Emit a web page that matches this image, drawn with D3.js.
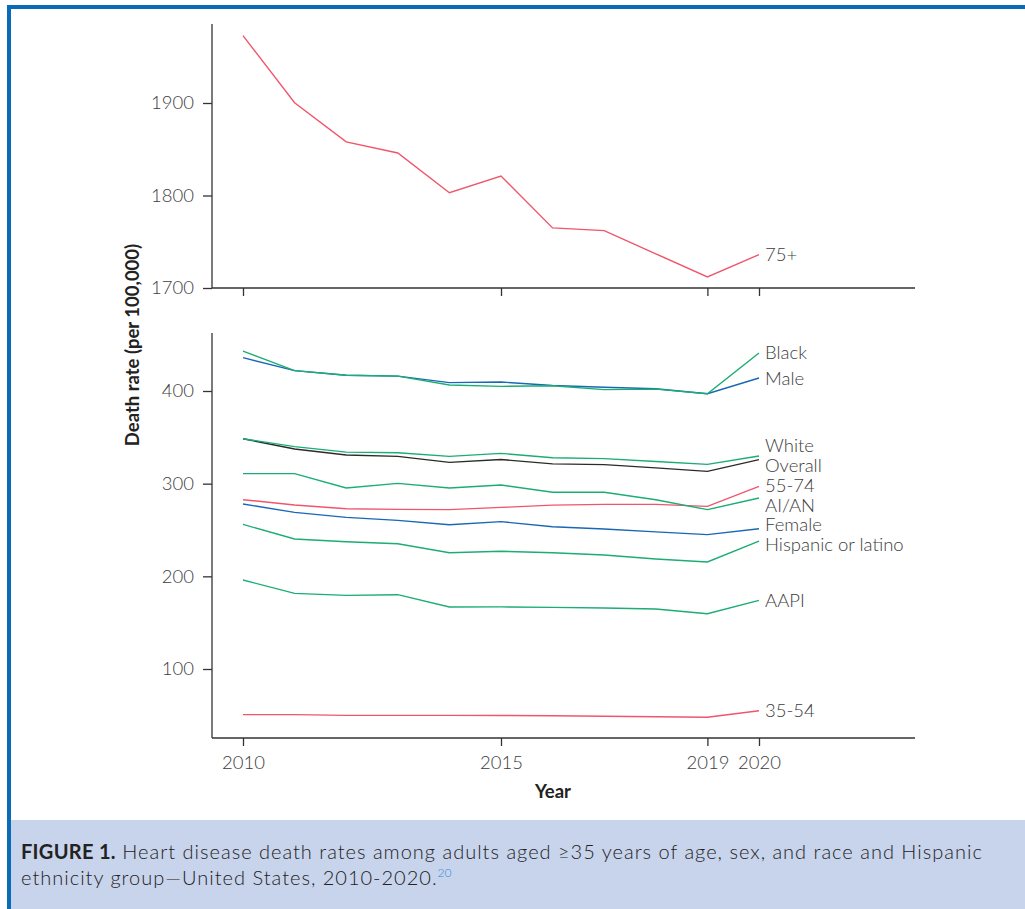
<!DOCTYPE html>
<html>
<head>
<meta charset="utf-8">
<script src="https://cdn.jsdelivr.net/npm/d3@7"></script>
<style>
  body { margin: 0; background: #fff; }
  svg { display: block; font-family: Lato, 'Open Sans', sans-serif; }
</style>
</head>
<body>
<div id="chart"></div>
<script>
const years = [2010, 2011, 2012, 2013, 2014, 2015, 2016, 2017, 2018, 2019, 2020];
const yearTicks = [2010, 2015, 2019, 2020];
const topTicks = [1700, 1800, 1900];
const bottomTicks = [100, 200, 300, 400];

// death rate per 100,000
const overall = [348.5, 337.4, 331, 329.5, 323, 326, 321.4, 320.5, 317, 313.3, 326];
const male = [436, 422, 417, 416, 409, 409.7, 406, 404, 402.5, 397, 414];
const female = [278, 269, 263.6, 260.4, 255.7, 259, 253.5, 251, 248, 245, 251.4];
const age3554 = [50.8, 50.8, 50, 50, 50, 49.8, 49.5, 49, 48.5, 48, 55];
const age5574 = [282.7, 277, 273, 272.3, 272, 274.4, 276.8, 277.7, 277.7, 275.5, 297];
const age75 = [1972.8, 1900.3, 1858, 1846, 1803, 1821, 1765, 1762, 1737, 1712, 1736];
const black = [443, 422, 417, 416, 406.5, 405, 405.7, 401.5, 402, 397, 441];
const white = [348.5, 340, 334, 333.4, 329.5, 332.7, 328, 327, 324, 320.8, 329.8];
const aian = [310.8, 310.8, 295.3, 300.3, 295.3, 298.5, 290.7, 290.7, 282.7, 272, 284.5];
const hispanic = [256, 240.3, 237.4, 235.2, 225.5, 227, 225.5, 223, 218.7, 215.5, 238];
const aapi = [196, 181.6, 179.5, 180.2, 166.9, 167, 166.5, 165.8, 164.7, 159.7, 174];

const seriesNames = ['Overall', 'Male', 'Female', '35-54', '55-74', 'Black', 'White', 'AI/AN', 'Hispanic or latino', 'AAPI'];
const seriesValues = [overall, male, female, age3554, age5574, black, white, aian, hispanic, aapi];
const seriesGroup = ['overall', 'sex', 'sex', 'age', 'age', 'race', 'race', 'race', 'race', 'race'];

const colors = { overall: '#2b2b2b', sex: '#1a67b4', age: '#f0566b', race: '#1bad74' };

const width = 1025;
const height = 909;

const svg = d3.select('#chart').append('svg')
  .attr('width', width)
  .attr('height', height);

// frame + caption box
svg.append('rect').attr('x', 7).attr('y', 5).attr('width', width - 7).attr('height', 4).attr('fill', '#0a6cb6');
svg.append('rect').attr('x', 7).attr('y', 5).attr('width', 4).attr('height', height - 5).attr('fill', '#0a6cb6');
svg.append('rect').attr('x', 11).attr('y', 820).attr('width', width - 11).attr('height', height - 820).attr('fill', '#c8d4ec');

const x = d3.scaleLinear().domain([2010, 2020]).range([243, 759]);
const yTop = d3.scaleLinear().domain([1700, 1900]).range([288, 103]);
const yBot = d3.scaleLinear().domain([100, 400]).range([669, 391]);

const axisX0 = 212;
const axisX1 = 915;
const axisColor = '#333';
const textColor = '#3d3d3d';

function styleAxis(g) {
  g.select('.domain').remove();
  g.selectAll('line').attr('stroke', axisColor).attr('stroke-width', 1.3);
  g.selectAll('text')
    .attr('fill', textColor)
    .attr('font-size', 18.5)
    .attr('font-weight', 300)
    .attr('font-family', 'Lato, sans-serif');
}

function drawPanel(yScale, yTicks, top, bottom, showLabels) {
  const g = svg.append('g');
  g.append('line')
    .attr('x1', axisX0).attr('x2', axisX0)
    .attr('y1', top).attr('y2', bottom)
    .attr('stroke', axisColor).attr('stroke-width', 1.3);
  g.append('line')
    .attr('x1', axisX0).attr('x2', axisX1)
    .attr('y1', bottom).attr('y2', bottom)
    .attr('stroke', axisColor).attr('stroke-width', 1.3);

  g.append('g')
    .attr('transform', `translate(${axisX0},0)`)
    .call(d3.axisLeft(yScale).tickValues(yTicks).tickSize(9).tickPadding(9).tickFormat(d3.format('d')))
    .call(styleAxis);

  g.append('g')
    .attr('transform', `translate(0,${bottom})`)
    .call(d3.axisBottom(x).tickValues(yearTicks).tickSize(8).tickPadding(10)
      .tickFormat(showLabels ? d3.format('d') : ''))
    .call(styleAxis);
  return g;
}

drawPanel(yTop, topTicks, 24, 288, false);
drawPanel(yBot, bottomTicks, 333, 738, true);

const lineTop = d3.line().x((d, i) => x(years[i])).y(d => yTop(d));
const lineBot = d3.line().x((d, i) => x(years[i])).y(d => yBot(d));

const lines = svg.append('g').attr('fill', 'none').attr('stroke-width', 1.4);

lines.append('path')
  .attr('d', lineTop(age75))
  .attr('stroke', colors.age);

seriesValues.forEach((vals, i) => {
  lines.append('path')
    .attr('d', lineBot(vals))
    .attr('stroke', colors[seriesGroup[i]]);
});

// end labels, nudged apart so they do not collide
const minGap = 20;
const labels = seriesValues.map((vals, i) => ({ name: seriesNames[i], y: yBot(vals[vals.length - 1]) }))
  .sort((a, b) => a.y - b.y);

let clusters = labels.map(l => ({ items: [l], target: l.y }));
let moved = true;
while (moved) {
  moved = false;
  clusters.forEach((c) => {
    c.start = c.target - ((c.items.length - 1) * minGap) / 2;
  });
  for (let i = 0; i < clusters.length - 1; i += 1) {
    const a = clusters[i];
    const b = clusters[i + 1];
    const aEnd = a.start + (a.items.length - 1) * minGap;
    if (b.start - aEnd < minGap - 0.5) {
      const items = a.items.concat(b.items);
      const target = d3.mean(items, d => d.y);
      clusters.splice(i, 2, { items, target });
      moved = true;
      break;
    }
  }
}
clusters.forEach((c) => {
  const start = c.target - ((c.items.length - 1) * minGap) / 2;
  c.items.forEach((it, k) => { it.ly = start + k * minGap; });
});

const labelX = x(2020) + 6;
const labelAttrs = sel => sel
  .attr('x', labelX)
  .attr('dy', '0.35em')
  .attr('fill', textColor)
  .attr('font-size', 18.5)
  .attr('font-weight', 300);

svg.append('g').selectAll('text')
  .data(labels)
  .join('text')
  .attr('y', d => d.ly)
  .text(d => d.name)
  .call(labelAttrs);

svg.append('text')
  .attr('y', yTop(age75[age75.length - 1]))
  .text('75+')
  .call(labelAttrs);

// axis titles
svg.append('text')
  .attr('transform', 'translate(139,345) rotate(-90)')
  .attr('text-anchor', 'middle')
  .attr('font-size', 18.5)
  .attr('font-weight', 700)
  .attr('fill', '#222')
  .text('Death rate (per 100,000)');

svg.append('text')
  .attr('x', 553)
  .attr('y', 798)
  .attr('text-anchor', 'middle')
  .attr('font-size', 18.5)
  .attr('font-weight', 700)
  .attr('fill', '#222')
  .text('Year');

// caption
const capAttrs = sel => sel
  .attr('x', 21)
  .attr('font-size', 20)
  .attr('font-weight', 300)
  .attr('letter-spacing', 1)
  .attr('fill', '#222');

const cap = svg.append('text').attr('y', 859).call(capAttrs);
cap.append('tspan').attr('font-weight', 700).attr('letter-spacing', 0.3).text('FIGURE 1.');
cap.append('tspan').text(' Heart disease death rates among adults aged \u226535 years of age, sex, and race and Hispanic');

const cap2 = svg.append('text').attr('y', 885).call(capAttrs);
cap2.append('tspan').text('ethnicity group\u2014United States, 2010-2020.');
cap2.append('tspan')
  .attr('font-size', 12)
  .attr('dy', -8)
  .attr('letter-spacing', 0)
  .attr('fill', '#2f8ed6')
  .text('20');
</script>
</body>
</html>
